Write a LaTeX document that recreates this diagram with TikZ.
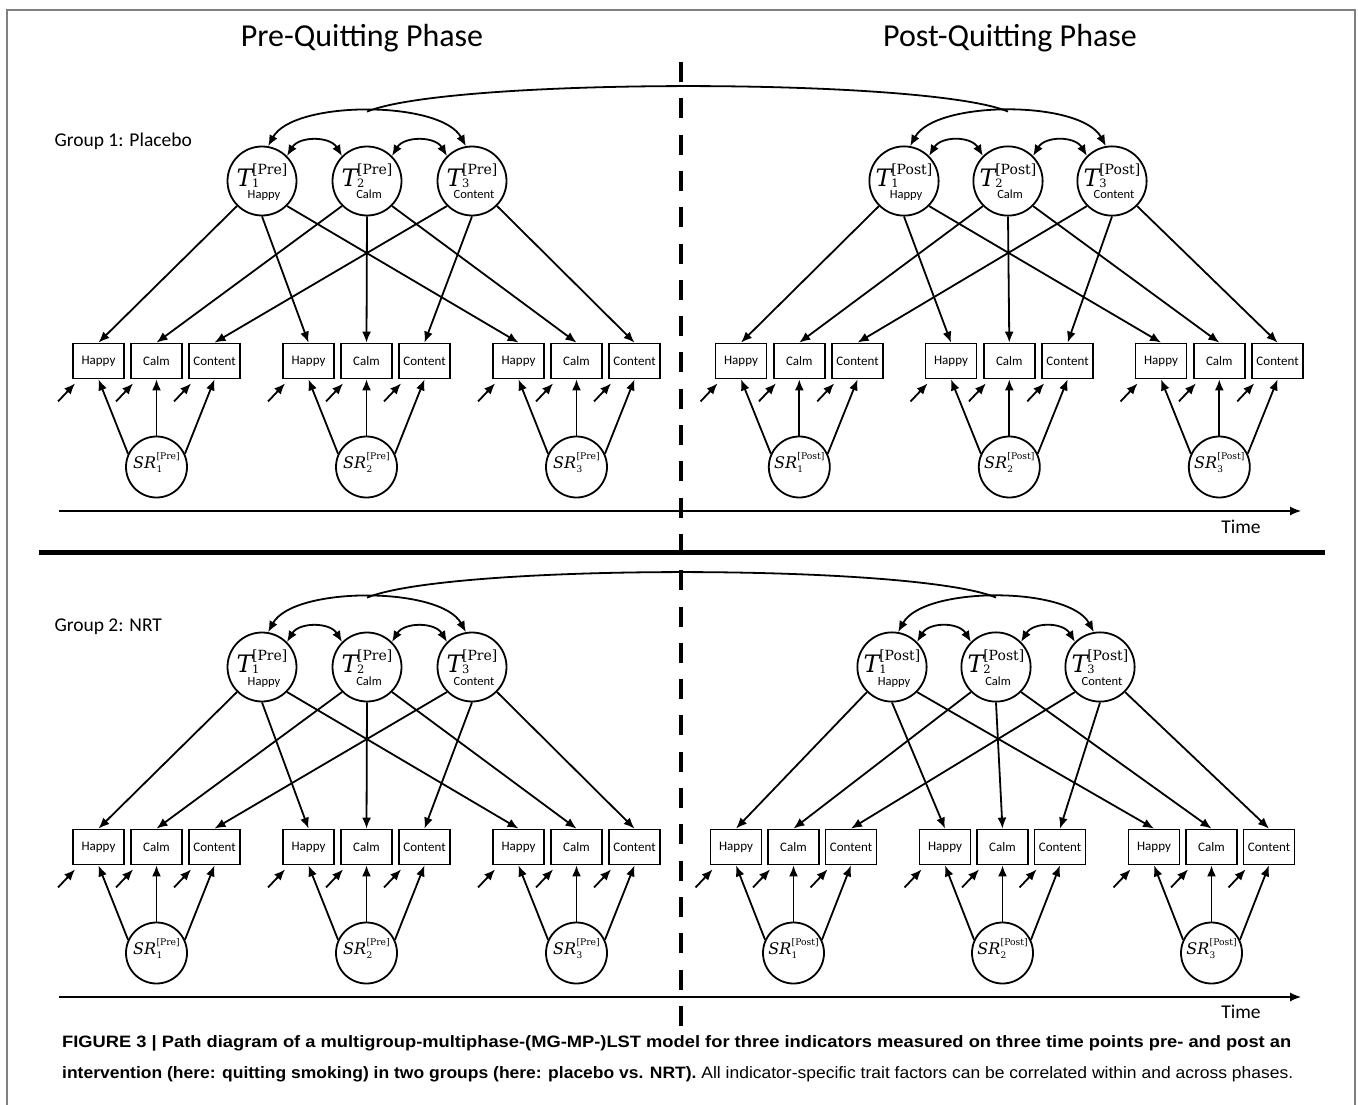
\documentclass[tikz,border=0pt]{standalone}
\usepackage[no-math]{fontspec}
\usepackage{graphicx}
\setmainfont{Carlito}
\newfontfamily\capfont{Liberation Sans}
\newfontfamily\symfont{DejaVu Serif}
\usetikzlibrary{arrows.meta,calc}

% trait factor label: T with occasion index, phase and the indicator name below
\newcommand{\tlab}[3]{\raisebox{0pt}[38pt][2pt]{\vbox{\offinterlineskip\halign{\hfil##\hfil\cr
  \symfont{\fontsize{24}{24}\selectfont\itshape T}\kern-0.5pt%
  \rlap{\raisebox{-1pt}{\fontsize{11.5}{11.5}\selectfont #1}}%
  \raisebox{12pt}{\fontsize{14}{14}\selectfont [#2]}\cr
  \noalign{\kern3.2pt}
  \hspace*{4pt}\fontsize{12.5}{12.5}\selectfont #3\cr}}}}

% state residual label: SR with occasion index and phase
\newcommand{\srlab}[2]{\raisebox{0pt}[12pt][10pt]{\symfont
  {\fontsize{16}{16}\selectfont\itshape SR}\kern0.3pt%
  \rlap{\raisebox{-4pt}{\fontsize{9}{9}\selectfont #1}}%
  \raisebox{8.5pt}{\fontsize{9.2}{9.2}\selectfont [#2]}}}

% one phase of one group: trait factors, indicators, state residual factors and paths
% #1 prefix, #2 phase, #3 x of T1, #4 trait spacing, #5 x of first indicator,
% #6 indicator spacing, #7 occasion spacing, #8 vertical offset
\newcommand{\phaseblock}[8]{%
  \foreach \k/\indname in {1/Happy,2/Calm,3/Content}{%
    \node[trait] (#1T\k) at ({#3+(\k-1)*#4},{181+#8}) {\tlab{\k}{#2}{\indname}};
  }
  \foreach \t in {1,2,3}{%
    \foreach \k/\indname in {1/Happy,2/Calm,3/Content}{%
      \node[ind] (#1B\t\k) at ({#5+(\t-1)*#7+(\k-1)*#6},{361+#8}) {\indname};
    }
    \node[state] (#1S\t) at ({#5+(\t-1)*#7+#6},{467+#8}) {\srlab{\t}{#2}};
  }
  \foreach \t in {1,2,3}{%
    \pgfmathtruncatemacro{\ang}{180+45*\t}
    \foreach \k in {1,2,3}{%
      \draw[arr] (#1T\k.\ang) -- (#1B\t\k.north);
      \draw[arr] ($(#1B\t\k.south west)+(-14,22)$) -- ($(#1B\t\k.south west)+(3,4)$);
    }
    \draw[arr] (#1S\t.155) -- (#1B\t1.south);
    \draw[arr] (#1S\t.north) -- (#1B\t2.south);
    \draw[arr] (#1S\t.25) -- (#1B\t3.south);
  }
  \draw[darr] (#1T1.45) .. controls +(12,-20) and +(-12,-20) .. (#1T2.135);
  \draw[darr] (#1T2.45) .. controls +(12,-20) and +(-12,-20) .. (#1T3.135);
  \draw[darr] (#1T1.80) .. controls +(25,-46) and +(-25,-46) .. (#1T3.100);
  \coordinate (#1top) at ($(#1T1.80)!0.5!(#1T3.100)+(0,-34.5)$);
}

\begin{document}
\begin{tikzpicture}[x=1pt,y=-1pt,
  trait/.style={circle,draw,line width=1.8pt,minimum size=69pt,inner sep=0pt},
  state/.style={circle,draw,line width=1.8pt,minimum size=61pt,inner sep=0pt},
  ind/.style={rectangle,draw,line width=1.8pt,minimum width=51pt,minimum height=35pt,
    inner sep=0pt,font=\fontsize{13}{13}\selectfont},
  arr/.style={line width=1.8pt,-{Latex[length=11pt,width=9pt]}},
  darr/.style={line width=1.8pt,{Latex[length=11pt,width=9pt]}-{Latex[length=11pt,width=9pt]}},
  axis/.style={line width=1.2pt,-{Latex[length=11pt,width=9pt]}},
  phase/.style={font=\fontsize{32}{32}\selectfont},
  grp/.style={font=\fontsize{19.5}{19.5}\selectfont,anchor=west},
  timelab/.style={font=\fontsize{19.5}{19.5}\selectfont},
]
\useasboundingbox (0,0) rectangle (1358,1105);
\fill[white] (0,0) rectangle (1358,1105);

% frame
\draw[black!50,line width=1.5pt] (7,1105) -- (7,10) -- (1355,10) -- (1355,1105);

% phase titles
\node[phase] (preT) at (362,38) {Pre-Quitting Phase};
\node[phase] (postT) at (1010,38) {Post-Quitting Phase};

% phase boundary and group separator
\coordinate (bdtop) at (681,62);
\coordinate (bdbot) at (681,1030);
\draw[line width=4.5pt,dash pattern=on 20pt off 16.3pt] (bdtop) -- (bdbot);
\coordinate (sepL) at (39,552);
\coordinate (sepR) at (1325,552);
\draw[line width=5pt] (sepL) -- (sepR);

% group labels
\node[grp] (g1lab) at (51,141) {Group 1: Placebo};
\node[grp] (g2lab) at (51,627) {Group 2: NRT};

% Group 1
\phaseblock{ga}{Pre}{262}{105}{98.5}{58}{210}{0}
\phaseblock{gb}{Post}{904}{104}{741}{58.3}{210}{0}
\draw[line width=1.8pt] (gatop) .. controls +(82,-34) and +(-82,-34) .. (gbtop);

% Group 2
\phaseblock{gc}{Pre}{262}{105}{98.5}{58}{210}{486}
\phaseblock{gd}{Post}{892}{104}{736}{57.5}{209}{486}
\draw[line width=1.8pt] (gctop) .. controls +(82,-34) and +(-82,-34) .. (gdtop);

% time axes
\coordinate (ax1s) at (59,511);
\coordinate (ax1e) at (1301,511);
\draw[axis] (ax1s) -- (ax1e);
\node[timelab] (time1) at (1241,527) {Time};
\coordinate (ax2s) at (59,997);
\coordinate (ax2e) at (1301,997);
\draw[axis] (ax2s) -- (ax2e);
\node[timelab] (time2) at (1241,1012) {Time};

% caption
\node[anchor=base west,inner sep=0pt] (cap1) at (62,1047)
  {\resizebox{1229pt}{\height}{\capfont\fontsize{16.5}{16.5}\selectfont\bfseries
  FIGURE 3 | Path diagram of a multigroup-multiphase-(MG-MP-)LST model for three indicators measured on three time points pre- and post an}};
\node[anchor=base west,inner sep=0pt] (cap2) at (62,1078)
  {\resizebox{1231pt}{\height}{\capfont\fontsize{16.5}{16.5}\selectfont
  {\bfseries intervention (here: quitting smoking) in two groups (here: placebo vs. NRT).} All indicator-specific trait factors can be correlated within and across phases.}};
\end{tikzpicture}
\end{document}
